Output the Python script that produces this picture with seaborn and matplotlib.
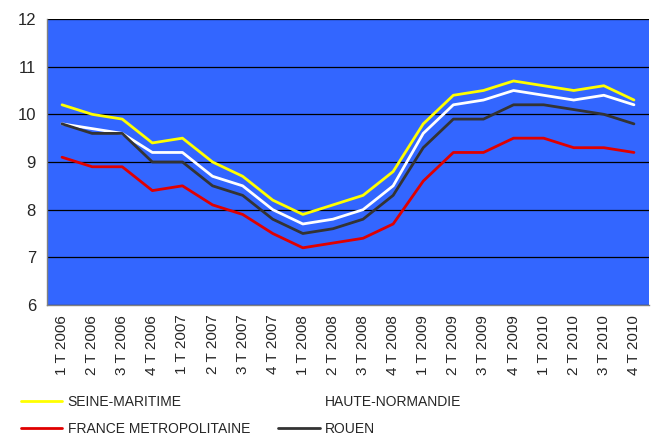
import numpy as np
import pandas as pd
import matplotlib
matplotlib.use("Agg")
import matplotlib.pyplot as plt
from matplotlib.lines import Line2D
from matplotlib.ticker import FixedLocator
import seaborn as sns

# Trimestres
quarters = [f"{q} T {y}" for y in range(2006, 2011) for q in range(1, 5)]

# Taux de chomage (%)
seine_maritime = [10.2, 10.0, 9.9, 9.4, 9.5, 9.0, 8.7, 8.2, 7.9, 8.1,
                  8.3, 8.8, 9.8, 10.4, 10.5, 10.7, 10.6, 10.5, 10.6, 10.3]
haute_normandie = [9.8, 9.7, 9.6, 9.2, 9.2, 8.7, 8.5, 8.0, 7.7, 7.8,
                   8.0, 8.5, 9.6, 10.2, 10.3, 10.5, 10.4, 10.3, 10.4, 10.2]
france_metro = [9.1, 8.9, 8.9, 8.4, 8.5, 8.1, 7.9, 7.5, 7.2, 7.3,
                7.4, 7.7, 8.6, 9.2, 9.2, 9.5, 9.5, 9.3, 9.3, 9.2]
rouen = [9.8, 9.6, 9.6, 9.0, 9.0, 8.5, 8.3, 7.8, 7.5, 7.6,
         7.8, 8.3, 9.3, 9.9, 9.9, 10.2, 10.2, 10.1, 10.0, 9.8]

series_names = ["SEINE-MARITIME", "HAUTE-NORMANDIE", "FRANCE METROPOLITAINE", "ROUEN"]
series_values = [seine_maritime, haute_normandie, france_metro, rouen]
colors = {
    "SEINE-MARITIME": "#FFFF00",
    "HAUTE-NORMANDIE": "#FFFFFF",
    "FRANCE METROPOLITAINE": "#E00000",
    "ROUEN": "#333333",
}

rows = []
for name, vals in zip(series_names, series_values):
    for i, v in enumerate(vals):
        rows.append({"idx": i, "quarter": quarters[i], "taux": v, "serie": name})
df = pd.DataFrame(rows)

sns.set_style("white", {"axes.facecolor": "#3366FF"})
plt.rcParams["font.family"] = ["Liberation Sans", "DejaVu Sans"]

fig = plt.figure(figsize=(6.51, 4.37), dpi=100)
ax = fig.add_axes([47 / 651, 1 - 305 / 437, 602 / 651, 286 / 437])

sns.lineplot(data=df, x="idx", y="taux", hue="serie", hue_order=series_names,
             palette=colors, linewidth=2, ax=ax, legend=False)

ax.set_xlim(-0.5, len(quarters) - 0.5)
ax.set_ylim(6, 12)
ax.set_yticks(range(6, 13))
ax.yaxis.grid(True, color="black", linewidth=0.9)
ax.set_axisbelow(True)

ax.set_xticks(range(len(quarters)))
ax.set_xticklabels(quarters, rotation=90, fontsize=11)
ax.xaxis.set_minor_locator(FixedLocator(np.arange(-0.5, len(quarters), 1.0)))
ax.tick_params(axis="x", which="major", length=0, pad=7)
ax.tick_params(axis="x", which="minor", length=5, color="#808080", width=1)
ax.tick_params(axis="y", length=5, color="#808080", width=1, labelsize=12, pad=3)
ax.set_xlabel("")
ax.set_ylabel("")

for side in ["top", "right"]:
    ax.spines[side].set_visible(False)
for side in ["left", "bottom"]:
    ax.spines[side].set_color("#808080")
    ax.spines[side].set_linewidth(1)

# Legende: ordre colonne par colonne
order = ["SEINE-MARITIME", "FRANCE METROPOLITAINE", "HAUTE-NORMANDIE", "ROUEN"]
handles = [Line2D([0], [0], color=colors[n], linewidth=2) for n in order]
fig.legend(handles, order, loc="upper left", bbox_to_anchor=(8 / 651, 1 - 382 / 437),
           ncol=2, frameon=False, fontsize=10, handlelength=3.0, handletextpad=0.4,
           columnspacing=2.0, labelspacing=0.95)

fig.savefig("out.png", dpi=100)
